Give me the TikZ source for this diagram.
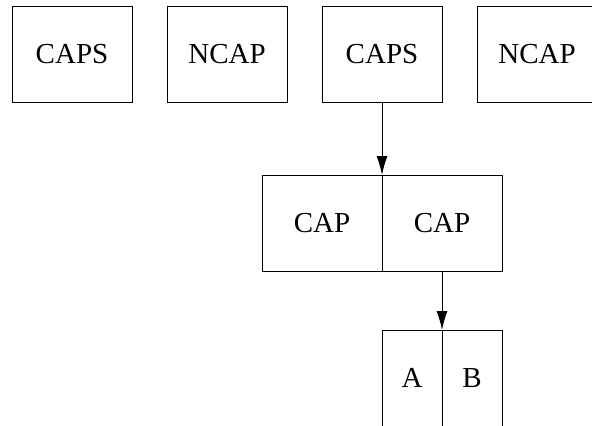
\documentclass[tikz,border=0pt]{standalone}
\usepackage{fontspec}
\setmainfont{Liberation Serif}
\usetikzlibrary{arrows.meta,positioning}

\begin{document}
\begin{tikzpicture}[
  x=0.5pt, y=-0.5pt,
  cell/.style={draw, line width=0.5pt, minimum width=60pt,
    minimum height=48pt, inner sep=0pt, outer sep=0pt,
    font=\fontsize{14.5}{17}\selectfont},
  thin cell/.style={cell, minimum width=30pt},
  arr/.style={-{Latex[length=9.5pt,width=5.5pt]}, line width=0.5pt},
  node distance=17.5pt,
]
\clip (0,0) rectangle (592,425);

% top row
\node[cell] (caps1) at (72,54) {CAPS};
\node[cell, right=of caps1] (ncap1) {NCAP};
\node[cell, right=of ncap1] (caps2) {CAPS};
\node[cell, right=of caps2] (ncap2) {NCAP};

% split cell
\node[cell, below left=36.5pt and 0pt of caps2.south] (capl) {CAP};
\node[cell, right=0pt of capl] (capr) {CAP};

% pair
\node[thin cell, below left=29.5pt and 0pt of capr.south] (a) {A};
\node[thin cell, right=0pt of a] (b) {B};

\draw[arr] (caps2) -- (capl.north east);
\draw[arr] (capr) -- (a.north east);

\end{tikzpicture}
\end{document}
